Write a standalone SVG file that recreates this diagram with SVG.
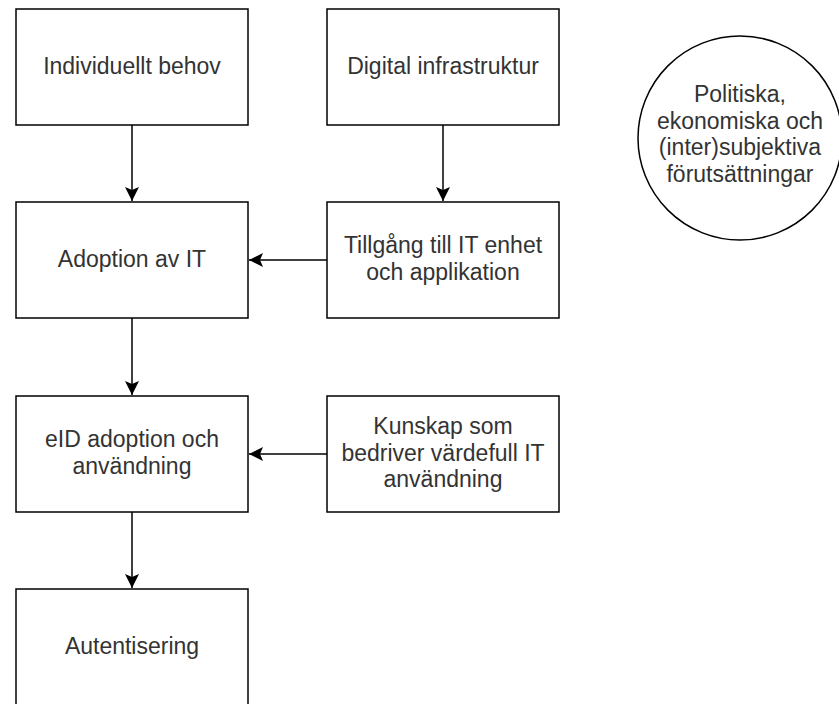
<svg xmlns="http://www.w3.org/2000/svg" width="839" height="704" viewBox="0 0 839 704">
<defs>
<style>
.box{fill:#fff;stroke:#000;stroke-width:1.5}
.lbl{font-family:"Liberation Sans",Arial,Helvetica,sans-serif;font-size:23px;fill:#333;text-anchor:middle}
.edge{fill:none;stroke:#000;stroke-width:1.5}
</style>
<marker id="arr" markerUnits="userSpaceOnUse" markerWidth="16" markerHeight="16" viewBox="0 0 16 16" refX="15" refY="8" orient="auto">
<path d="M1,1 L15,8 L1,15 L4,8 Z" fill="#000"/>
</marker>
</defs>
<rect width="839" height="704" fill="#fff"/>
<g id="connectors">
<path class="edge" d="M132,125 L132,201" marker-end="url(#arr)"/>
<path class="edge" d="M443,125 L443,201" marker-end="url(#arr)"/>
<path class="edge" d="M327,260 L249,260" marker-end="url(#arr)"/>
<path class="edge" d="M132,318 L132,395" marker-end="url(#arr)"/>
<path class="edge" d="M327,454 L249,454" marker-end="url(#arr)"/>
<path class="edge" d="M132,512 L132,588" marker-end="url(#arr)"/>
</g>
<g id="individuellt-behov">
<rect class="box" x="16" y="9" width="232" height="116"/>
<text class="lbl" x="132" y="73.5">Individuellt behov</text>
</g>
<g id="digital-infrastruktur">
<rect class="box" x="327" y="9" width="232" height="116"/>
<text class="lbl" x="443" y="73.5">Digital infrastruktur</text>
</g>
<g id="forutsattningar">
<circle cx="740" cy="138" r="102" fill="#fff" stroke="#000" stroke-width="1.5"/>
<text class="lbl" x="740" y="102">Politiska,</text>
<text class="lbl" x="740" y="128.5">ekonomiska och</text>
<text class="lbl" x="740" y="155">(inter)subjektiva</text>
<text class="lbl" x="740" y="181.5">förutsättningar</text>
</g>
<g id="adoption-av-it">
<rect class="box" x="16" y="202" width="232" height="116"/>
<text class="lbl" x="132" y="266.5">Adoption av IT</text>
</g>
<g id="tillgang">
<rect class="box" x="327" y="202" width="232" height="116"/>
<text class="lbl" x="443" y="253.3">Tillgång till IT enhet</text>
<text class="lbl" x="443" y="280">och applikation</text>
</g>
<g id="eid-adoption">
<rect class="box" x="16" y="396" width="232" height="116"/>
<text class="lbl" x="132" y="447.2">eID adoption och</text>
<text class="lbl" x="132" y="473.8">användning</text>
</g>
<g id="kunskap">
<rect class="box" x="327" y="396" width="232" height="116"/>
<text class="lbl" x="443" y="434">Kunskap som</text>
<text class="lbl" x="443" y="460.5">bedriver värdefull IT</text>
<text class="lbl" x="443" y="487">användning</text>
</g>
<g id="autentisering">
<rect class="box" x="16" y="589" width="232" height="116"/>
<text class="lbl" x="132" y="654">Autentisering</text>
</g>
</svg>
